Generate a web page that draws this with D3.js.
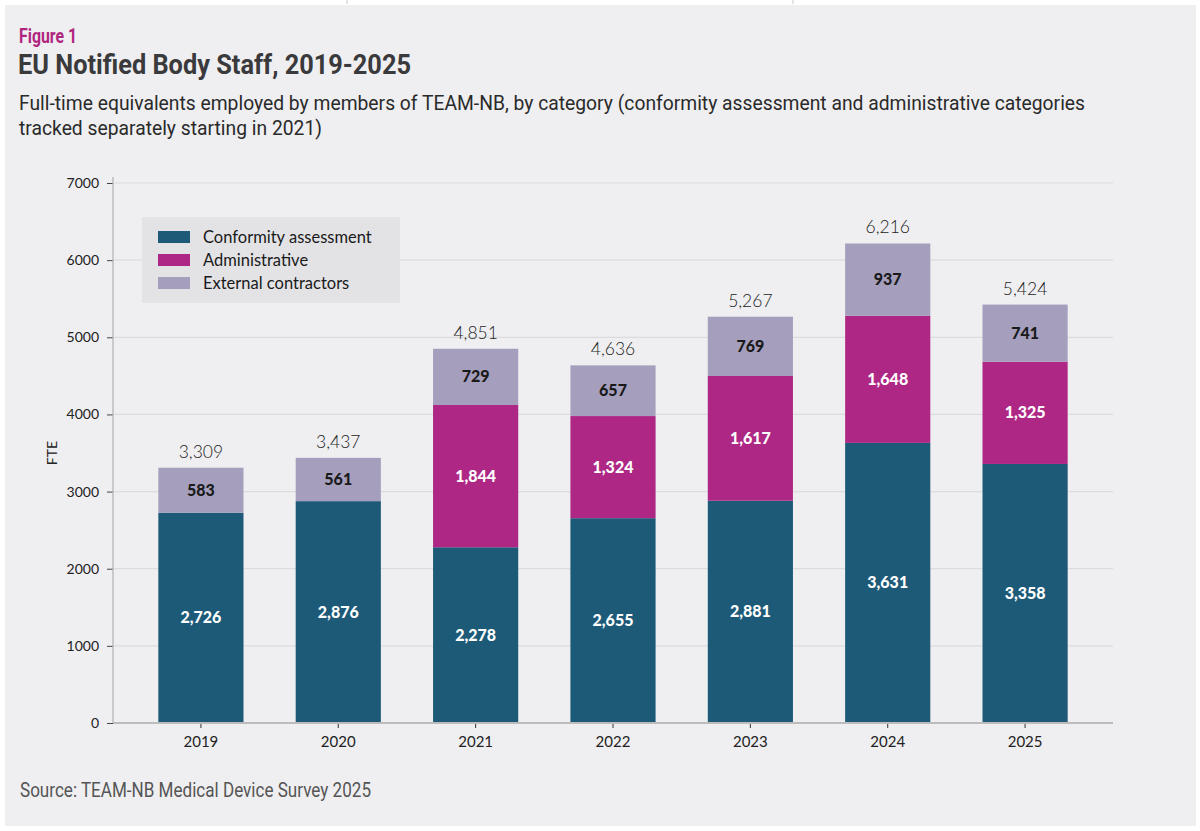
<!DOCTYPE html>
<html>
<head>
<meta charset="utf-8">
<script src="https://cdn.jsdelivr.net/npm/d3@7"></script>
<style>
  html, body { margin: 0; padding: 0; background: #fff; }
  svg { display: block; }
</style>
</head>
<body>
<div id="chart"></div>
<script>
// data
const years = ["2019", "2020", "2021", "2022", "2023", "2024", "2025"];
const conformity = [2726, 2876, 2278, 2655, 2881, 3631, 3358];
const administrative = [0, 0, 1844, 1324, 1617, 1648, 1325];
const external = [583, 561, 729, 657, 769, 937, 741];
const seriesNames = ["Conformity assessment", "Administrative", "External contractors"];
const yTicks = [0, 1000, 2000, 3000, 4000, 5000, 6000, 7000];

const W = 1200, H = 831;
const colors = ["#1d5a78", "#ae2784", "#a59fbd"];
const labelFill = ["#fff", "#fff", "#1a1a1a"];
const chartFont = "Lato, 'Noto Sans', sans-serif";

const rows = years.map((y, i) => ({
  year: y,
  [seriesNames[0]]: conformity[i],
  [seriesNames[1]]: administrative[i],
  [seriesNames[2]]: external[i]
}));
const stacked = d3.stack().keys(seriesNames)(rows);
const totals = years.map((y, i) => conformity[i] + administrative[i] + external[i]);

const svg = d3.select("#chart").append("svg")
  .attr("width", W)
  .attr("height", H);

// page frame: white strip with dividers at top, grey panel
svg.append("rect").attr("width", W).attr("height", H).attr("fill", "#fff");
svg.selectAll("line.div")
  .data([347, 793])
  .join("line")
  .attr("x1", d => d).attr("x2", d => d)
  .attr("y1", 0).attr("y2", 4)
  .attr("stroke", "#c8c8c8");
svg.append("rect")
  .attr("x", 5).attr("y", 5)
  .attr("width", 1191).attr("height", 821)
  .attr("fill", "#efeff1");

// header
svg.append("text")
  .attr("x", 19).attr("y", 43)
  .attr("textLength", 58).attr("lengthAdjust", "spacingAndGlyphs")
  .style("font", "bold 20px Roboto, sans-serif")
  .attr("fill", "#b0267f")
  .text("Figure 1");

svg.append("text")
  .attr("x", 18).attr("y", 74)
  .attr("textLength", 393).attr("lengthAdjust", "spacingAndGlyphs")
  .style("font", "bold 28px Roboto, sans-serif")
  .attr("fill", "#3a3a3c")
  .text("EU Notified Body Staff, 2019-2025");

const sub = svg.append("text")
  .style("font", "19.3px Roboto, sans-serif")
  .attr("fill", "#2a2a2a");
sub.append("tspan").attr("x", 19).attr("y", 110)
  .text("Full-time equivalents employed by members of TEAM-NB, by category (conformity assessment and administrative categories");
sub.append("tspan").attr("x", 19).attr("y", 135)
  .text("tracked separately starting in 2021)");

svg.append("text")
  .attr("x", 20).attr("y", 797)
  .attr("textLength", 351).attr("lengthAdjust", "spacingAndGlyphs")
  .style("font", "20px Roboto, sans-serif")
  .attr("fill", "#555")
  .text("Source: TEAM-NB Medical Device Survey 2025");

// scales
const x0 = 113, x1 = 1113, yTop = 183, yBase = 723;
const x = d3.scaleBand()
  .domain(years)
  .range([x0, x1])
  .paddingInner(0.38)
  .paddingOuter(0.33);

const y = d3.scaleLinear()
  .domain([0, 7000])
  .range([yBase, yTop]);

// gridlines
svg.append("g")
  .selectAll("line")
  .data(yTicks.filter(t => t > 0))
  .join("line")
  .attr("x1", x0).attr("x2", x1)
  .attr("y1", d => y(d)).attr("y2", d => y(d))
  .attr("stroke", "#dcdcdf")
  .attr("stroke-width", 1.2);

// bars
const layer = svg.append("g")
  .selectAll("g")
  .data(stacked)
  .join("g")
  .attr("fill", (d, i) => colors[i]);

layer.selectAll("rect")
  .data(d => d)
  .join("rect")
  .attr("x", d => x(d.data.year))
  .attr("y", d => y(d[1]))
  .attr("width", x.bandwidth())
  .attr("height", d => y(d[0]) - y(d[1]));

// segment labels
svg.append("g")
  .selectAll("g")
  .data(stacked)
  .join("g")
  .attr("fill", (d, i) => labelFill[i])
  .selectAll("text")
  .data(d => d.filter(s => s[1] - s[0] > 0))
  .join("text")
  .attr("x", d => x(d.data.year) + x.bandwidth() / 2)
  .attr("y", d => (y(d[0]) + y(d[1])) / 2 + 5.5)
  .attr("text-anchor", "middle")
  .style("font", `900 16px ${chartFont}`)
  .text(d => d3.format(",")(d[1] - d[0]));

// totals
svg.append("g")
  .selectAll("text")
  .data(years)
  .join("text")
  .attr("x", d => x(d) + x.bandwidth() / 2)
  .attr("y", (d, i) => y(totals[i]) - 10)
  .attr("text-anchor", "middle")
  .style("font", `300 17.5px ${chartFont}`)
  .attr("fill", "#222")
  .text((d, i) => d3.format(",")(totals[i]));

// y axis
const yAxis = svg.append("g")
  .attr("transform", `translate(${x0},0)`)
  .call(d3.axisLeft(y).tickValues(yTicks).tickSize(6).tickPadding(8).tickFormat(d3.format("d")));
yAxis.select(".domain").remove();
yAxis.selectAll(".tick line").attr("stroke", "#444");
yAxis.selectAll("text").style("font", `14px ${chartFont}`).attr("fill", "#222");
svg.append("line")
  .attr("x1", x0).attr("x2", x0)
  .attr("y1", 177).attr("y2", yBase)
  .attr("stroke", "#b0b0b0").attr("stroke-width", 1.2);

// x axis
const xAxis = svg.append("g")
  .attr("transform", `translate(0,${yBase})`)
  .call(d3.axisBottom(x).tickSize(5).tickPadding(8).tickSizeOuter(0));
xAxis.select(".domain").remove();
xAxis.selectAll(".tick line").attr("stroke", "#333");
xAxis.selectAll("text").style("font", `15px ${chartFont}`).attr("fill", "#222");
svg.append("line")
  .attr("x1", x0).attr("x2", x1)
  .attr("y1", yBase).attr("y2", yBase)
  .attr("stroke", "#bcbcbc").attr("stroke-width", 2);

// y label
svg.append("text")
  .attr("transform", `translate(57,453) rotate(-90)`)
  .attr("text-anchor", "middle")
  .style("font", `14px ${chartFont}`)
  .attr("fill", "#222")
  .text("FTE");

// legend
const legend = svg.append("g");
legend.append("rect")
  .attr("x", 142).attr("y", 217)
  .attr("width", 258).attr("height", 86)
  .attr("fill", "#e3e3e6");
const item = legend.selectAll("g")
  .data(seriesNames)
  .join("g")
  .attr("transform", (d, i) => `translate(158,${231 + i * 23})`);
item.append("rect")
  .attr("width", 32).attr("height", 12)
  .attr("fill", (d, i) => colors[i]);
item.append("text")
  .attr("x", 45).attr("y", 12)
  .style("font", `16.5px ${chartFont}`)
  .attr("fill", "#1a1a1a")
  .text(d => d);
</script>
</body>
</html>
